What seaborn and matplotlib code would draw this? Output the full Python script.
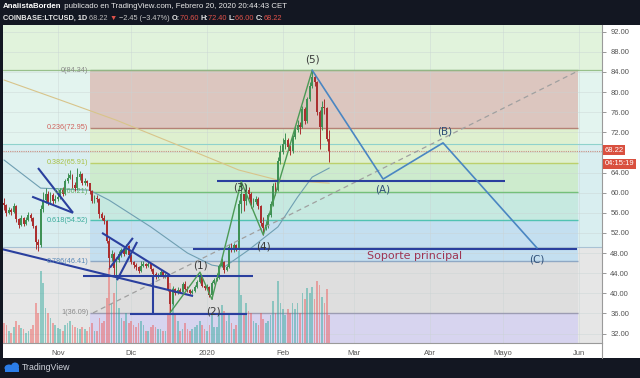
import numpy as np
import pandas as pd
import matplotlib
matplotlib.use('Agg')
import matplotlib.pyplot as plt
import matplotlib.dates as mdates
import matplotlib.transforms as mtransforms
from matplotlib.patches import Rectangle, Ellipse
import seaborn as sns

# ------------------------------------------------------------------ data
start_date = '2019-10-10'
first_open = 57.9

close_oct = [57.5, 56.0, 56.6, 56.2, 57.4, 54.8, 53.6, 55.0, 53.8, 54.6, 55.6, 54.9, 53.4, 50.2, 49.6, 56.8, 58.6, 59.8, 58.2, 59.6, 58.3, 58.8]
close_nov = [59.2, 60.5, 59.8, 62.4, 63.0, 63.6, 61.6, 61.0, 63.2, 63.8, 62.0, 62.4, 61.9, 60.3, 58.4, 59.0, 58.8, 55.7, 55.0, 54.3, 50.4, 47.0, 47.9, 45.0, 46.6, 47.8, 48.6, 47.9, 49.4, 47.6]
close_dec = [46.2, 45.6, 45.2, 44.4, 45.5, 45.9, 45.5, 45.8, 44.8, 43.9, 43.3, 43.6, 44.2, 43.2, 43.6, 40.6, 37.8, 40.8, 40.0, 40.6, 40.3, 41.8, 40.9, 40.6, 40.0, 40.4, 41.2, 42.3, 43.2, 41.5, 41.0]
close_jan = [41.2, 39.6, 42.0, 42.6, 43.0, 45.4, 46.2, 44.6, 45.2, 49.2, 48.6, 49.6, 49.0, 57.8, 59.8, 58.4, 60.6, 59.8, 57.6, 58.2, 58.8, 57.4, 54.0, 53.0, 53.6, 55.6, 57.8, 61.4, 60.6, 66.2, 68.0]
close_feb = [69.6, 70.4, 69.0, 68.2, 71.0, 72.4, 73.4, 73.0, 76.6, 74.2, 78.6, 81.2, 83.0, 82.0, 76.0, 73.0, 77.0, 76.8, 70.6, 68.22]

high_oct = [58.9, 57.8, 57.2, 57.0, 58.0, 57.6, 55.0, 55.6, 55.2, 55.2, 56.2, 56.0, 55.2, 53.6, 50.8, 57.6, 60.2, 61.0, 60.4, 60.2, 60.0, 59.6]
high_nov = [59.8, 61.0, 61.2, 62.8, 64.0, 64.6, 63.8, 62.2, 65.0, 64.4, 64.0, 63.0, 62.6, 62.0, 60.6, 59.6, 59.5, 58.9, 56.2, 55.6, 54.6, 51.0, 48.6, 48.2, 47.2, 48.4, 49.0, 48.8, 49.8, 49.6]
high_dec = [47.8, 46.5, 46.0, 45.4, 46.4, 46.5, 46.0, 46.3, 46.0, 45.0, 44.2, 44.0, 44.6, 44.4, 44.0, 43.8, 40.8, 41.4, 41.0, 41.2, 41.0, 42.2, 42.4, 41.4, 40.8, 40.8, 41.6, 42.6, 44.0, 43.4, 41.8]
high_jan = [41.8, 41.4, 42.4, 43.0, 44.0, 45.8, 47.0, 46.4, 45.6, 49.8, 50.0, 50.0, 49.8, 58.6, 62.2, 59.8, 61.8, 61.2, 60.2, 59.0, 59.4, 59.2, 57.6, 55.2, 54.4, 56.0, 58.4, 62.0, 62.2, 67.0, 69.4]
high_feb = [70.8, 71.8, 70.8, 69.4, 71.4, 73.2, 74.4, 74.0, 77.2, 77.0, 79.0, 82.0, 84.34, 83.6, 82.2, 76.4, 78.2, 78.6, 77.0, 72.40]

low_oct = [56.6, 55.4, 55.8, 55.6, 56.0, 54.2, 53.0, 53.4, 53.4, 53.6, 54.4, 54.4, 53.0, 48.8, 48.4, 49.2, 56.2, 58.0, 57.6, 57.8, 57.8, 58.0]
low_nov = [58.4, 58.8, 59.4, 59.6, 62.0, 62.8, 61.0, 60.4, 60.6, 62.6, 61.6, 61.6, 61.4, 59.8, 58.0, 58.0, 58.2, 55.0, 54.6, 53.8, 50.0, 44.8, 46.4, 43.6, 43.0, 46.2, 47.2, 47.4, 47.8, 47.2]
low_dec = [45.8, 45.0, 44.6, 44.0, 44.2, 45.2, 45.0, 45.2, 44.4, 43.6, 42.8, 43.0, 43.4, 43.0, 43.0, 40.4, 36.1, 37.6, 39.6, 39.8, 40.0, 40.2, 40.6, 40.2, 39.8, 39.8, 40.2, 41.0, 42.0, 41.2, 40.6]
low_jan = [40.8, 39.2, 38.8, 41.8, 42.4, 42.8, 45.2, 44.0, 44.4, 45.0, 48.2, 48.2, 48.4, 48.6, 56.0, 56.4, 57.6, 58.8, 57.0, 57.2, 57.8, 56.8, 53.4, 51.6, 52.6, 53.0, 55.2, 57.4, 59.6, 60.4, 65.6]
low_feb = [67.6, 68.6, 68.4, 67.4, 67.8, 70.6, 72.0, 71.6, 72.8, 73.6, 73.8, 78.2, 80.8, 81.2, 75.4, 68.6, 72.4, 75.6, 70.2, 66.00]

vol_oct = [20, 18, 12, 10, 16, 22, 18, 15, 14, 10, 12, 14, 18, 40, 30, 72, 60, 35, 30, 25, 20, 18]
vol_nov = [15, 14, 12, 18, 20, 22, 18, 16, 15, 14, 16, 14, 12, 16, 20, 12, 12, 25, 20, 22, 45, 75, 40, 50, 65, 35, 25, 22, 30, 20]
vol_dec = [22, 18, 16, 20, 22, 18, 12, 12, 16, 18, 16, 14, 14, 12, 12, 30, 60, 55, 28, 22, 12, 14, 20, 14, 12, 14, 16, 18, 22, 18, 14]
vol_jan = [12, 18, 28, 16, 16, 30, 38, 32, 22, 30, 20, 14, 18, 92, 48, 30, 40, 32, 30, 22, 20, 18, 30, 24, 20, 22, 28, 42, 30, 62, 40]
vol_feb = [34, 28, 34, 30, 40, 34, 40, 30, 50, 44, 55, 50, 56, 44, 62, 58, 46, 40, 54, 28]

# moving averages
ma_gray_dates = ['2019-10-10', '2019-10-25', '2019-11-14', '2019-11-22', '2019-12-09', '2019-12-24',
                 '2020-01-03', '2020-01-08', '2020-01-18', '2020-01-30', '2020-02-07', '2020-02-13', '2020-02-20']
ma_gray_vals = [66.5, 60.9, 60.5, 58.5, 53.2, 48.0, 45.6, 45.2, 48.6, 53.2, 59.1, 63.1, 64.9]
ma_tan_dates = ['2019-10-10', '2019-11-01', '2019-11-25', '2019-12-28', '2020-01-14', '2020-01-30', '2020-02-20']
ma_tan_vals = [82.4, 78.6, 74.4, 67.9, 64.5, 62.5, 61.9]

# Fibonacci retracement
fib_ratios = ['0', '0.236', '0.382', '0.5', '0.618', '0.786', '1']
fib_levels = [84.34, 72.95, 65.91, 60.21, 54.52, 46.41, 36.09]
fib_line_colors = ['#93b585', '#b58275', '#bcd06c', '#74c07a', '#52c2b2', '#8fa8c4', '#9c9cb2']
fib_text_colors = ['#8a8a8a', '#d0625c', '#a9c043', '#5aac5c', '#3aab9b', '#5a8ab8', '#8a8a8a']
fib_zone_colors = ['#dcc6bf', '#def0cf', '#cdebcd', '#c6e9e0', '#c4dff0', '#dedede', '#d7d4ef']
fib_start, fib_end = '2019-11-14 05:00', '2020-05-31 17:00'

# Elliott wave and projection
wave_dates = ['2019-12-17', '2019-12-29 03:00', '2020-01-03', '2020-01-15', '2020-01-24', '2020-02-13']
wave_vals = [36.2, 44.2, 38.8, 62.2, 51.6, 84.34]
wave_labels = ['(1)', '(2)', '(3)', '(4)', '(5)']
wave_label_dates = ['2019-12-29 03:00', '2020-01-03 11:00', '2020-01-14 12:00', '2020-01-24 06:00', '2020-02-13']
wave_label_vals = [45.6, 36.4, 61.0, 49.2, 86.4]

abc_dates = ['2020-02-13', '2020-03-13', '2020-04-06 12:00', '2020-05-14 22:00']
abc_vals = [84.34, 62.7, 69.9, 49.0]
abc_labels = ['(A)', '(B)', '(C)']
abc_label_dates = ['2020-03-13', '2020-04-07', '2020-05-15']
abc_label_vals = [60.7, 72.1, 46.8]

# hand-drawn trend lines: (start date, start price, end date, end price)
trend_lines = [
    ('2019-10-09', 48.8, '2019-12-26 07:00', 39.45),
    ('2019-10-23 22:00', 64.9, '2019-11-07 05:00', 56.0),
    ('2019-10-21 12:00', 59.2, '2019-11-07 05:00', 56.0),
    ('2019-11-19 02:00', 52.0, '2019-12-16 21:00', 43.6),
    ('2019-11-22 08:00', 45.1, '2019-12-01 17:00', 51.0),
    ('2019-11-25 05:00', 42.6, '2019-12-03 10:00', 50.2),
    ('2019-11-11 07:00', 43.43, '2020-01-19 19:00', 43.43),
    ('2019-11-30 12:00', 35.88, '2020-01-17 10:00', 35.88),
    ('2019-12-09 22:00', 43.43, '2019-12-09 22:00', 35.88),
    ('2020-01-05', 62.3, '2020-05-01 19:00', 62.3),
    ('2019-12-26 07:00', 48.8, '2020-05-31 07:00', 48.8),
]
dashed_line = ('2019-11-15 10:00', 36.1, '2020-05-31 17:00', 84.2)
support_text = 'Soporte principal'
support_text_pos = ('2020-03-26', 47.4)

price_ticks = list(range(32, 93, 4))
hidden_tick = 68          # covered by the last-price marker in the reference
month_dates = ['2019-11-01', '2019-12-01', '2020-01-01', '2020-02-01', '2020-03-01', '2020-04-01', '2020-05-01', '2020-06-01']
month_labels = ['Nov', 'Dic', '2020', 'Feb', 'Mar', 'Abr', 'Mayo', 'Jun']
last_price = 68.22
countdown = '04:15:19'

# ------------------------------------------------------------------ build frame
closes = np.array(close_oct + close_nov + close_dec + close_jan + close_feb)
highs = np.array(high_oct + high_nov + high_dec + high_jan + high_feb)
lows = np.array(low_oct + low_nov + low_dec + low_jan + low_feb)
vols = np.array(vol_oct + vol_nov + vol_dec + vol_jan + vol_feb, dtype=float)
dates = pd.date_range(start_date, periods=len(closes), freq='D')
opens = np.concatenate([[first_open], closes[:-1]])
highs = np.maximum(highs, np.maximum(opens, closes))
lows = np.minimum(lows, np.minimum(opens, closes))
df = pd.DataFrame({'date': dates, 'open': opens, 'high': highs, 'low': lows, 'close': closes, 'vol': vols})
df['x'] = mdates.date2num(df['date'])
up = (df['close'] >= df['open']).to_numpy()


def D(s):
    return mdates.date2num(pd.Timestamp(s))


# ------------------------------------------------------------------ figure
W, H = 640, 378
sns.set_theme(style='white')
plt.rcParams['font.family'] = ['Liberation Sans', 'DejaVu Sans']
fig = plt.figure(figsize=(W / 100, H / 100), dpi=100, facecolor='#131722')

# white panel behind axes
fig.patches.append(Rectangle((3 / W, (H - 358) / H), (W - 3) / W, (358 - 25) / H,
                             transform=fig.transFigure, fc='white', ec='none', zorder=-5))

ax = fig.add_axes([3 / W, (H - 343) / H, 599 / W, 318 / H])
ax.set_zorder(1)
ax.set_facecolor('#e6e6e6')

jan1 = D('2020-01-01')
xmin = jan1 + (3 - 207) / 2.446
xmax = jan1 + (602 - 207) / 2.446
ymin = 92 - (343 - 31.7) / 5.03
ymax = 92 + (31.7 - 25) / 5.03

# background zones spanning the full width (wider fib tool)
ax.axhspan(84.34, 100, color='#e1f3dc', lw=0, zorder=0)
ax.axhspan(69.67, 84.34, color='#e3f4ef', lw=0, zorder=0)
ax.axhspan(49.2, 69.67, color='#d9eef0', lw=0, zorder=0)

fs, fe = D(fib_start), D(fib_end)
zone_bounds = fib_levels + [ymin - 1]
for i, c in enumerate(fib_zone_colors):
    ax.fill_between([fs, fe], zone_bounds[i + 1], zone_bounds[i], color=c, lw=0, zorder=0.5)

# grid
for p in price_ticks:
    ax.axhline(p, color='#c9d3d3', lw=0.5, alpha=0.6, zorder=1)
for m in month_dates:
    ax.axvline(D(m), color='#c9d3d3', lw=0.5, alpha=0.6, zorder=1)

# extra lines of the wide fib tool
ax.axhline(84.34, color='#98c08c', lw=0.9, zorder=1.5)
ax.axhline(69.67, color='#8fd2cc', lw=0.8, zorder=1.5)
ax.axhline(49.2, color='#a9c2d4', lw=0.8, zorder=1.5)

for lev, lc, tc, r in zip(fib_levels, fib_line_colors, fib_text_colors, fib_ratios):
    ax.hlines(lev, fs, fe, color=lc, lw=1.0, zorder=1.6)
    ax.text(fs - 0.7, lev, f'{r}({lev:.2f})', ha='right', va='center', fontsize=5.2, color=tc, zorder=6)

# last price line
ax.axhline(last_price, color='#c98f84', lw=0.8, ls=(0, (1, 1)), zorder=2)

# volume
vtrans = mtransforms.blended_transform_factory(ax.transData, ax.transAxes)
vcols = np.where(up, '#26a69a', '#ef5350')
ax.bar(df['x'], df['vol'] / 318.0, width=0.7, bottom=0, color=vcols, alpha=0.45, lw=0,
       transform=vtrans, zorder=2.5)

# moving averages
sns.lineplot(x=[D(d) for d in ma_tan_dates], y=ma_tan_vals, ax=ax, color='#d8c48a', lw=0.8, zorder=3, legend=False)
sns.lineplot(x=[D(d) for d in ma_gray_dates], y=ma_gray_vals, ax=ax, color='#6f9fb2', lw=0.8, zorder=3, legend=False)

# candles
ccols = np.where(up, '#3f9155', '#ab3030')
ax.vlines(df['x'], df['low'], df['high'], colors=ccols, lw=0.7, zorder=4)
body_lo = np.minimum(df['open'], df['close'])
body_h = np.maximum(np.abs(df['close'] - df['open']), 0.12)
ax.bar(df['x'], body_h, bottom=body_lo, width=0.78, color=ccols, lw=0, zorder=4.5)

# drawings
navy = '#2a3f9e'
for d0, p0, d1, p1 in trend_lines:
    ax.plot([D(d0), D(d1)], [p0, p1], color=navy, lw=1.5, solid_capstyle='butt', zorder=5)
d0, p0, d1, p1 = dashed_line
ax.plot([D(d0), D(d1)], [p0, p1], color='#a0a0a0', lw=0.9, ls=(0, (4, 3)), zorder=4.8)

sns.lineplot(x=[D(d) for d in wave_dates], y=wave_vals, ax=ax, color='#4b9a55', lw=1.0, zorder=5.2,
             legend=False, sort=False)
sns.lineplot(x=[D(d) for d in abc_dates], y=abc_vals, ax=ax, color='#4a86c2', lw=1.2, zorder=5.2,
             legend=False, sort=False)

for t, d, v in zip(wave_labels, wave_label_dates, wave_label_vals):
    ax.text(D(d), v, t, ha='center', va='center', fontsize=7.5, color='#3a3a3a',
            family='DejaVu Sans', zorder=6)
for t, d, v in zip(abc_labels, abc_label_dates, abc_label_vals):
    ax.text(D(d), v, t, ha='center', va='center', fontsize=7.5, color='#2f4f78',
            family='DejaVu Sans', zorder=6)
ax.text(D(support_text_pos[0]), support_text_pos[1], support_text, ha='center', va='center',
        fontsize=8, color='#9e3553', family='DejaVu Sans', zorder=6)

# axes / ticks
ax.set_xlim(xmin, xmax)
ax.set_ylim(ymin, ymax)
ax.yaxis.tick_right()
ax.set_yticks(price_ticks)
ax.set_yticklabels(['' if p == hidden_tick else f'{p:.2f}' for p in price_ticks])
ax.set_xticks([D(m) for m in month_dates])
ax.set_xticklabels(month_labels)
ax.tick_params(axis='y', length=3, width=0.6, color='#888888', labelsize=5.5, labelcolor='#555555', pad=3)
ax.tick_params(axis='x', length=2, width=0.6, color='#888888', labelsize=5.5, labelcolor='#555555', pad=3)
ax.grid(False)
for s in ['top', 'left']:
    ax.spines[s].set_visible(False)
ax.spines['right'].set_color('#9a9a9a')
ax.spines['bottom'].set_color('#9a9a9a')
ax.spines['right'].set_linewidth(0.8)
ax.spines['bottom'].set_linewidth(0.8)
ax.set_xlabel('')
ax.set_ylabel('')

# price-axis separator continues into the time axis
fig.lines.append(plt.Line2D([602 / W, 602 / W], [(H - 358) / H, (H - 343) / H], transform=fig.transFigure,
                            color='#9a9a9a', lw=0.8))

# last price boxes
ptrans = mtransforms.blended_transform_factory(ax.transAxes, ax.transData)
ax.text(1.004, last_price + 0.25, f'{last_price:.2f}', transform=ptrans, ha='left', va='center', fontsize=5.5,
        color='white', clip_on=False, zorder=10,
        bbox=dict(boxstyle='square,pad=0.2', fc='#d9503f', ec='none'))
ax.text(1.004, 65.7, countdown, transform=ptrans, ha='left', va='center', fontsize=5.5,
        color='white', clip_on=False, zorder=10,
        bbox=dict(boxstyle='square,pad=0.2', fc='#d9503f', ec='none'))

# header
renderer = fig.canvas.get_renderer()


def runs(x0, ypix, parts, size):
    x = x0
    for txt, col, wt in parts:
        t = fig.text(x / W, 1 - ypix / H, txt, color=col, fontsize=size, fontweight=wt,
                     ha='left', va='center', family=['Liberation Sans', 'DejaVu Sans'])
        bb = t.get_window_extent(renderer=renderer)
        x += bb.width


hdr_white = '#e8e8e8'
red = '#e0524a'
runs(3, 7, [('AnalistaBorden', 'white', 'bold'),
            (' publicado en TradingView.com, Febrero 20, 2020 20:44:43 CET', hdr_white, 'normal')], 5.7)
runs(3, 18, [('COINBASE:LTCUSD, 1D ', hdr_white, 'bold'), ('68.22 ', '#b8b8b8', 'normal'),
             ('\u25bc', red, 'normal'), (' \u22122.45 (\u22123.47%) ', '#c8c8c8', 'normal'),
             ('O:', hdr_white, 'bold'), ('70.60 ', red, 'normal'), ('H:', hdr_white, 'bold'),
             ('72.40 ', red, 'normal'), ('L:', hdr_white, 'bold'), ('66.00 ', red, 'normal'),
             ('C:', hdr_white, 'bold'), ('68.22', red, 'normal')], 5.3)

# footer logo and name
fig.patches.append(Ellipse((9 / W, 1 - 368 / H), 9 / W, 7 / H, transform=fig.transFigure, fc='#2b7de9', ec='none'))
fig.patches.append(Ellipse((15 / W, 1 - 366.5 / H), 8 / W, 8 / H, transform=fig.transFigure, fc='#2b7de9', ec='none'))
fig.patches.append(Rectangle((5 / W, 1 - 372 / H), 14 / W, 4 / H, transform=fig.transFigure, fc='#2b7de9', ec='none'))
fig.text(22 / W, 1 - 368 / H, 'TradingView', color='#d1d4dc', fontsize=6.3, ha='left', va='center')

fig.savefig('out.png', dpi=100, facecolor=fig.get_facecolor())
